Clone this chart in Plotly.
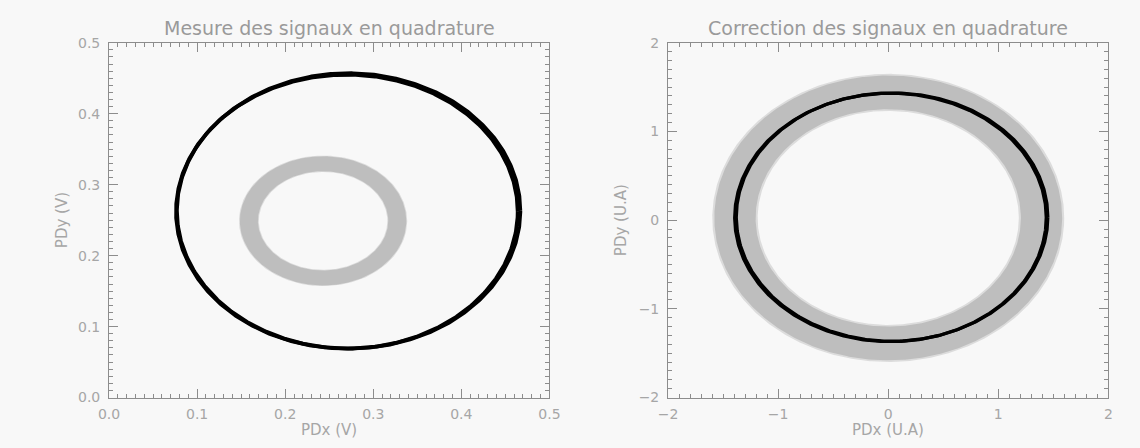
import numpy as np
import plotly.graph_objects as go

W, H = 1140, 448

# --- Measured quadrature signals (V) ---
# reference Lissajous ellipse (two overlaid cycles)
raw_cx = [0.270, 0.272]
raw_cy = [0.262, 0.263]
raw_rx = [0.194, 0.195]
raw_ry = [0.193, 0.194]
# noisy measured signal, drawn as a band (centre, outer / inner half-axes)
raw_band_c = [0.243, 0.249]
raw_band_outer = [0.0945, 0.091]
raw_band_inner = [0.074, 0.070]

# --- Corrected quadrature signals (a.u.) ---
cor_cx = [0.02, 0.035]
cor_cy = [0.03, 0.035]
cor_rx = [1.415, 1.415]
cor_ry = [1.40, 1.40]
cor_band_c = [0.0, 0.025]
cor_band_outer = [1.58, 1.605]
cor_band_inner = [1.205, 1.225]

titles = ["Mesure des signaux en quadrature", "Correction des signaux en quadrature"]
xtitles = ["PDx (V)", "PDx (U.A)"]
ytitles = ["PDy (V)", "PDy (U.A)"]

# plot boxes in pixels: (left, right, top, bottom)
boxes = [(100, 549, 36, 404), (670, 1119, 36, 404)]

t = np.linspace(0, 2 * np.pi, 721)


def ellipse(cx, cy, rx, ry, reverse=False):
    tt = t[::-1] if reverse else t
    return cx + rx * np.cos(tt), cy + ry * np.sin(tt)


def annulus(c, outer, inner):
    xo, yo = ellipse(c[0], c[1], outer[0], outer[1])
    xi, yi = ellipse(c[0], c[1], inner[0], inner[1], reverse=True)
    return np.concatenate([xo, xi]), np.concatenate([yo, yi])


fig = go.Figure()

band_color = "#bebebe"
halo_color = "#dcdcdc"

panels = [
    (raw_band_c, raw_band_outer, raw_band_inner, raw_cx, raw_cy, raw_rx, raw_ry, 3.8, "x", "y"),
    (cor_band_c, cor_band_outer, cor_band_inner, cor_cx, cor_cy, cor_rx, cor_ry, 3.2, "x2", "y2"),
]

for c, outer, inner, cxs, cys, rxs, rys, lw, xa, ya in panels:
    # soft fringe of the noisy band
    grow = [(o - i) * 0.05 for o, i in zip(outer, inner)]
    hx, hy = annulus(c, [outer[0] + grow[0], outer[1] + grow[1]],
                     [inner[0] - grow[0], inner[1] - grow[1]])
    fig.add_trace(go.Scatter(x=hx, y=hy, mode="lines", fill="toself",
                             fillcolor=halo_color, line=dict(width=0),
                             xaxis=xa, yaxis=ya, hoverinfo="skip", showlegend=False))
    bx, by = annulus(c, outer, inner)
    fig.add_trace(go.Scatter(x=bx, y=by, mode="lines", fill="toself",
                             fillcolor=band_color, line=dict(width=0),
                             xaxis=xa, yaxis=ya, hoverinfo="skip", showlegend=False))
    for cx, cy, rx, ry in zip(cxs, cys, rxs, rys):
        ex, ey = ellipse(cx, cy, rx, ry)
        fig.add_trace(go.Scatter(x=ex, y=ey, mode="lines",
                                 line=dict(color="black", width=lw),
                                 xaxis=xa, yaxis=ya, hoverinfo="skip", showlegend=False))

axis_grey = "#8c8c8c"
label_grey = "#a6a6a6"
font_family = "DejaVu Sans"


def axis_style(domain, rng, dtick, minor_dtick, fmt, anchor, standoff):
    return dict(
        domain=domain, range=rng, anchor=anchor,
        showline=True, linecolor=axis_grey, linewidth=1, mirror="allticks",
        ticks="inside", ticklen=9, tickcolor=axis_grey, tickwidth=1,
        tick0=rng[0], dtick=dtick, tickformat=fmt,
        minor=dict(ticks="inside", ticklen=4, tickcolor=axis_grey, dtick=minor_dtick,
                   tick0=rng[0], showgrid=False),
        showgrid=False, zeroline=False,
        ticklabelstandoff=standoff,
        tickfont=dict(family=font_family, size=14, color=label_grey),
        fixedrange=True,
    )


def px_x(p):
    return p / W


def px_y(p):
    return 1 - p / H


(l1, r1, t1, b1), (l2, r2, t2, b2) = boxes
ydom = [px_y(b1), px_y(t1)]

fig.update_layout(
    width=W, height=H,
    margin=dict(l=0, r=0, t=0, b=0),
    paper_bgcolor="#f8f8f8", plot_bgcolor="#f8f8f8",
    xaxis=axis_style([px_x(l1), px_x(r1)], [0, 0.5], 0.1, 0.01, ".1f", "y", 4),
    yaxis=axis_style(ydom, [0, 0.5], 0.1, 0.01, ".1f", "x", 5),
    xaxis2=axis_style([px_x(l2), px_x(r2)], [-2, 2], 1, 0.1, "d", "y2", 4),
    yaxis2=axis_style(ydom, [-2, 2], 1, 0.1, "d", "x2", 5),
)

annotations = []
for (l, r, tp, bt), title, xt, yt in zip(boxes, titles, xtitles, ytitles):
    annotations.append(dict(x=px_x((l + r) / 2), y=px_y(21), xref="paper", yref="paper",
                            text=title, showarrow=False, xanchor="center", yanchor="middle",
                            font=dict(family=font_family, size=19, color="#9a9a9a")))
    annotations.append(dict(x=px_x((l + r) / 2), y=px_y(448), xref="paper", yref="paper",
                            text=xt, showarrow=False, xanchor="center", yanchor="bottom",
                            borderpad=0,
                            font=dict(family=font_family, size=15, color=label_grey)))
    annotations.append(dict(x=px_x(l - 48), y=px_y((tp + bt) / 2), xref="paper", yref="paper",
                            text=yt, showarrow=False, textangle=-90,
                            xanchor="center", yanchor="middle",
                            font=dict(family=font_family, size=15, color=label_grey)))
fig.update_layout(annotations=annotations)

fig.write_html("out.html")
